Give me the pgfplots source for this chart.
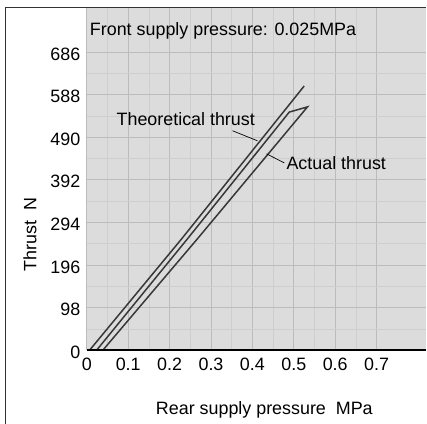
\documentclass[border=0pt]{standalone}
\usepackage{pgfplots}
\pgfplotsset{compat=1.18}
\usepackage{fontspec}
\setmainfont{Liberation Sans}

\definecolor{bggray}{RGB}{220,220,220}
\definecolor{gridmaj}{RGB}{188,188,188}
\definecolor{gridmin}{RGB}{206,206,206}
\definecolor{curve}{RGB}{55,55,55}

\begin{document}
\begin{tikzpicture}[font=\fontsize{18}{21}\selectfont]
\begin{axis}[
    scale only axis,
    width=340bp, height=344bp,
    xmin=0, xmax=0.819,
    ymin=0, ymax=790,
    axis line style={draw=none},
    axis background/.style={fill=bggray},
    xtick={0,0.1,0.2,0.3,0.4,0.5,0.6,0.7},
    xticklabels={0,0.1,0.2,0.3,0.4,0.5,0.6,0.7},
    ytick={0,98,196,294,392,490,588,686},
    minor x tick num=1,
    minor y tick num=1,
    major tick length=0pt, minor tick length=0pt,
    grid=both,
    major grid style={gridmaj, line width=0.8pt},
    minor grid style={gridmin, line width=0.5pt},
    /pgf/number format/assume math mode=true,
    ticklabel style={font=\fontsize{18}{21}\selectfont},
    yticklabel style={xshift=-3bp, yshift=-2bp},
    xticklabel style={yshift=-4bp},
    clip=false,
]
\coordinate (SW) at (rel axis cs:0,0);
\coordinate (NE) at (rel axis cs:1,1);

% theoretical thrust
\addplot[curve, line width=1.5pt] coordinates {
    (0.007,0) (0.229,256) (0.525,608)
};
% actual thrust (loop: rising on the lower branch, returning on the upper one)
\addplot[curve, line width=1.5pt] coordinates {
    (0.039,0) (0.267,256) (0.533,560) (0.489,548) (0.243,256) (0.024,0)
};

\draw[black, line width=0.7pt] (axis cs:0.352,505) -- (axis cs:0.412,482);
\draw[black, line width=0.7pt] (axis cs:0.434,452) -- (axis cs:0.477,431);
\node at (axis cs:0.239,532) {Theoretical thrust};
\node[anchor=west, inner sep=0pt] at (axis cs:0.482,431) {Actual thrust};

\draw[black, line width=2.2pt] (rel axis cs:0,0) -- (rel axis cs:1,0);
\end{axis}

\useasboundingbox ([shift={(-87bp,-74bp)}]SW) rectangle ([shift={(0bp,7bp)}]NE);
\draw[black!80, line width=0.8pt] ([shift={(-82bp,-80bp)}]SW) -- ([shift={(-82bp,0bp)}]SW |- NE) -- (NE);
\node[anchor=west, inner sep=0pt] at ([shift={(3bp,320bp)}]SW) {Front supply pressure: 0.025MPa};
\node at ([shift={(178bp,-60bp)}]SW) {Rear supply pressure\ \ MPa};
\node[rotate=90] at ([shift={(-57bp,116bp)}]SW) {Thrust\ \ N};
\end{tikzpicture}
\end{document}
